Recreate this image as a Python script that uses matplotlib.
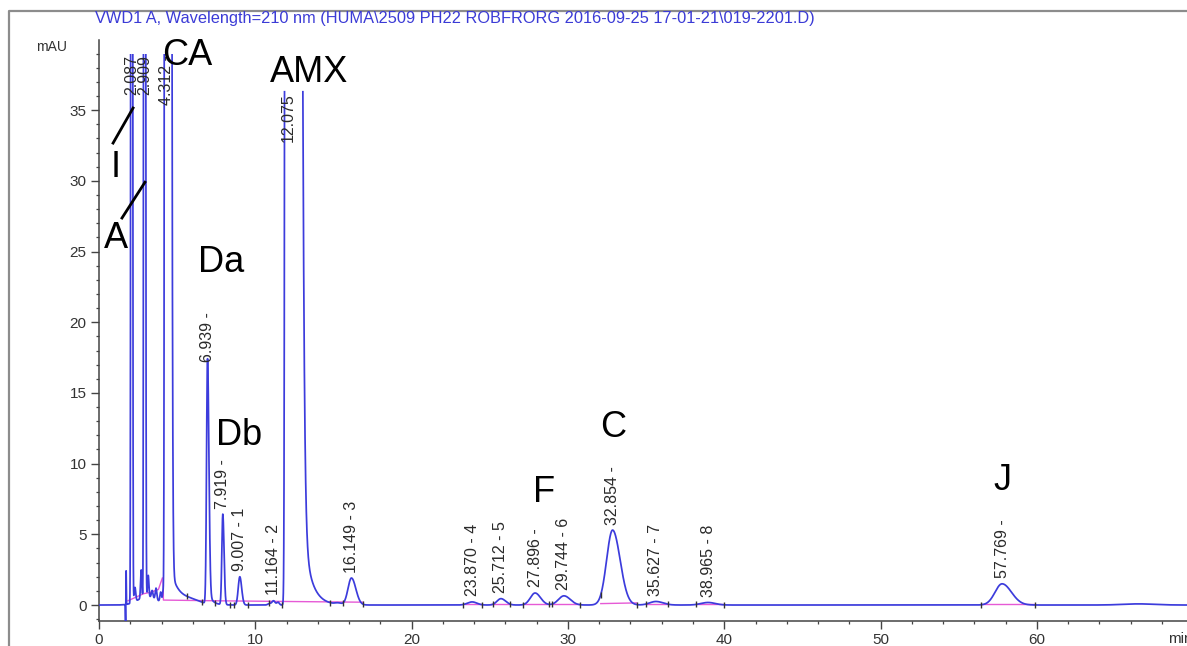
import numpy as np
import matplotlib
matplotlib.use("Agg")
import matplotlib.pyplot as plt
from matplotlib.patches import Rectangle
from matplotlib.lines import Line2D
from matplotlib.ticker import MultipleLocator

plt.rcParams['font.family'] = ['Liberation Sans', 'DejaVu Sans']

# ---------------------------------------------------------------- data
# Integrated peaks: retention time (min), apex height (mAU),
# leading / trailing widths (min), exponential tail (mAU at apex, tau in min)
peak_rt = [2.087, 2.909, 4.312, 6.939, 7.919, 9.007, 11.164, 12.075, 16.149,
           23.870, 25.712, 27.896, 29.744, 32.854, 35.627, 38.965, 57.769]
peak_height = [400, 400, 3000, 16.8, 6.4, 2.0, 0.3, 3000, 1.9,
               0.22, 0.45, 0.85, 0.65, 5.3, 0.25, 0.18, 1.5]
peak_width_left = [0.03, 0.03, 0.047, 0.06, 0.06, 0.10, 0.10, 0.07, 0.22,
                   0.30, 0.25, 0.30, 0.35, 0.38, 0.40, 0.45, 0.45]
peak_width_right = [0.035, 0.04, 0.122, 0.09, 0.08, 0.12, 0.10, 0.32, 0.28,
                    0.30, 0.30, 0.35, 0.40, 0.48, 0.45, 0.45, 0.60]
peak_tail_height = [0, 0, 3.95, 1.0, 0, 0, 0, 38.0, 0,
                    0, 0, 0, 0, 0, 0, 0, 0]
peak_tail_tau = [1, 1, 0.57, 0.25, 1, 1, 1, 0.5, 1,
                 1, 1, 1, 1, 1, 1, 1, 1]
peak_label = ["2.087", "2.909", "4.312 -", "6.939 -", "7.919 -", "9.007 - 1",
              "11.164 - 2", "12.075", "16.149 - 3", "23.870 - 4", "25.712 - 5",
              "27.896 -", "29.744 - 6", "32.854 -", "35.627 - 7", "38.965 - 8",
              "57.769 -"]

# AMX overloads the detector at this level (off-scale samples not drawn)
amx_plateau = 36.3
display_ceiling = 39.0

# Small unlabelled features (injection spike, solvent-front ripples, drift)
minor_rt = [1.70, 1.735, 2.30, 2.70, 3.15, 3.40, 3.65, 3.95, 4.10,
            3.10, 5.90, 10.90, 11.45, 15.30, 66.5]
minor_height = [-1.3, 2.4, 1.0, 2.0, 1.5, 0.5, 0.8, 0.7, 0.8,
                0.6, 0.25, 0.1, 0.2, 0.1, 0.08]
minor_width = [0.012, 0.012, 0.05, 0.04, 0.04, 0.05, 0.05, 0.05, 0.04,
               0.6, 0.6, 0.1, 0.08, 0.2, 1.0]

# Integration baselines (drop lines between peak start / end)
baseline_t = [[1.85, 2.45, 2.85, 3.30, 3.55, 3.80, 4.05],
              [4.10, 4.12, 7.5, 12.0, 16.9],
              [23.4, 24.5], [25.1, 26.3], [27.1, 28.8], [29.0, 30.7],
              [32.1, 34.4], [35.0, 36.4], [38.2, 40.0], [56.4, 59.9]]
baseline_v = [[0.3, 0.6, 0.8, 0.9, 1.0, 1.1, 1.9],
              [1.9, 0.35, 0.3, 0.25, 0.2],
              [0.1, 0.1], [0.1, 0.1], [0.1, 0.1], [0.1, 0.1],
              [0.1, 0.15], [0.1, 0.1], [0.1, 0.1], [0.1, 0.1]]

# Peak start / end markers
marker_t = [5.6, 6.6, 7.45, 8.35, 8.65, 9.55, 10.9, 11.7, 14.8, 15.6, 16.9,
            23.3, 24.5, 25.2, 26.3, 27.1, 28.8, 29.0, 30.8, 32.1, 34.4,
            35.0, 36.4, 38.2, 40.0, 56.4, 59.9]

title_text = ("VWD1 A, Wavelength=210 nm (HUMA\\2509 PH22 ROBFRORG "
              "2016-09-25 17-01-21\\019-2201.D)")

# ---------------------------------------------------------------- signal
t = np.linspace(0, 69.6, 24000)


def asym_gauss(x, rt, h, wl, wr):
    w = np.where(x < rt, wl, wr)
    return h * np.exp(-0.5 * ((x - rt) / w) ** 2)


def exp_tail(x, rt, h, tau):
    gate = 1.0 / (1.0 + np.exp(-np.clip((x - rt) / 0.02, -60, 60)))
    return h * np.exp(-np.clip(x - rt, 0, None) / tau) * gate


signal = np.zeros_like(t)
overload = np.zeros_like(t, dtype=bool)
for rt, h, wl, wr, th, tau, lab in zip(peak_rt, peak_height, peak_width_left,
                                       peak_width_right, peak_tail_height,
                                       peak_tail_tau, peak_label):
    comp = asym_gauss(t, rt, h, wl, wr) + exp_tail(t, rt, th, tau)
    if lab == "12.075":
        overload |= comp > amx_plateau
        comp = np.minimum(comp, amx_plateau)
    signal += comp
for rt, h, w in zip(minor_rt, minor_height, minor_width):
    signal += asym_gauss(t, rt, h, w, w)

# keep the first/last saturated sample so the flanks reach the plateau,
# drop the off-scale samples in between
inner = overload & np.roll(overload, 1) & np.roll(overload, -1)
shown = np.where(inner, np.nan, signal)

# ---------------------------------------------------------------- figure
W, H = 1187, 646
fig = plt.figure(figsize=(W / 100, H / 100), dpi=100)
x0_px, y_top_px, y_bot_px = 99, 40, 621
ax = fig.add_axes([x0_px / W, 1 - y_bot_px / H, 1 - x0_px / W,
                   (y_bot_px - y_top_px) / H])
ax.set_xlim(0, 69.6)
ax.set_ylim(-1.13, 39.96)

trace_color = '#3c3cdc'
line, = ax.plot(t, shown, color=trace_color, lw=1.25, zorder=3)
clip = Rectangle((0, -1.13), 69.6, display_ceiling + 1.13,
                 transform=ax.transData, visible=False)
ax.add_patch(clip)
line.set_clip_path(clip)

for bt, bv in zip(baseline_t, baseline_v):
    ax.plot(bt, bv, color='#e65ad6', lw=1.0, zorder=2)

ax.plot(marker_t, np.interp(marker_t, t, signal), ls='none', marker='|',
        ms=5, mew=1.0, color='#333333', zorder=4)

# retention-time labels
for rt, h, lab in zip(peak_rt, peak_height, peak_label):
    top = amx_plateau if lab == "12.075" else h
    if top >= amx_plateau:
        y = min(top, display_ceiling)
        ax.annotate(lab, xy=(rt, y), xytext=(0, -1), textcoords='offset points',
                    rotation=90, ha='center', va='top', fontsize=11.5,
                    color='#2a2a2a', zorder=5)
    else:
        ax.annotate(lab, xy=(rt, h), xytext=(0, 4), textcoords='offset points',
                    rotation=90, ha='center', va='bottom', fontsize=11.5,
                    color='#2a2a2a', zorder=5)

# compound names
names = [("CA", 4.03, 38.2), ("AMX", 10.94, 37.0), ("Da", 6.33, 23.55),
         ("Db", 7.49, 11.3), ("I", 0.72, 30.3), ("A", 0.32, 25.25),
         ("C", 32.05, 11.9), ("F", 27.77, 7.28), ("J", 57.2, 8.13)]
for txt, x, y in names:
    ax.text(x, y, txt, fontsize=26, color='black', ha='left', va='baseline',
            zorder=6)
ax.plot([0.90, 2.18], [32.67, 35.15], color='black', lw=2.0, zorder=6)
ax.plot([1.47, 2.94], [27.37, 29.90], color='black', lw=2.0, zorder=6)

# axes styling
for side in ('top', 'right'):
    ax.spines[side].set_visible(False)
for side in ('left', 'bottom'):
    ax.spines[side].set_color('#444444')
    ax.spines[side].set_linewidth(1.1)
ax.xaxis.set_major_locator(MultipleLocator(10))
ax.xaxis.set_minor_locator(MultipleLocator(2))
ax.yaxis.set_major_locator(MultipleLocator(5))
ax.yaxis.set_minor_locator(MultipleLocator(1))
ax.set_xticks([0, 10, 20, 30, 40, 50, 60])
ax.set_yticks([0, 5, 10, 15, 20, 25, 30, 35])
ax.tick_params(axis='both', which='major', length=6, width=1.0,
               color='#444444', labelsize=11, labelcolor='#333333', pad=3)
ax.tick_params(axis='both', which='minor', length=2.5, width=0.9,
               color='#444444')
ax.patch.set_alpha(0)

fig.text(36 / W, 1 - 47 / H, 'mAU', fontsize=10, color='#333333',
         va='center', ha='left')
fig.text(1168 / W, 1 - 639 / H, 'min', fontsize=11, color='#333333',
         va='center', ha='left')
fig.text(95 / W, 1 - 18 / H, title_text, fontsize=11.8, color='#3b3bd6',
         va='center', ha='left')

# outer frame
fig.add_artist(Line2D([9 / W, 9 / W, 1.0], [0, 1 - 11 / H, 1 - 11 / H],
                      transform=fig.transFigure, color='#8c8c8c', lw=1.6))

fig.savefig('out.png', dpi=100)
